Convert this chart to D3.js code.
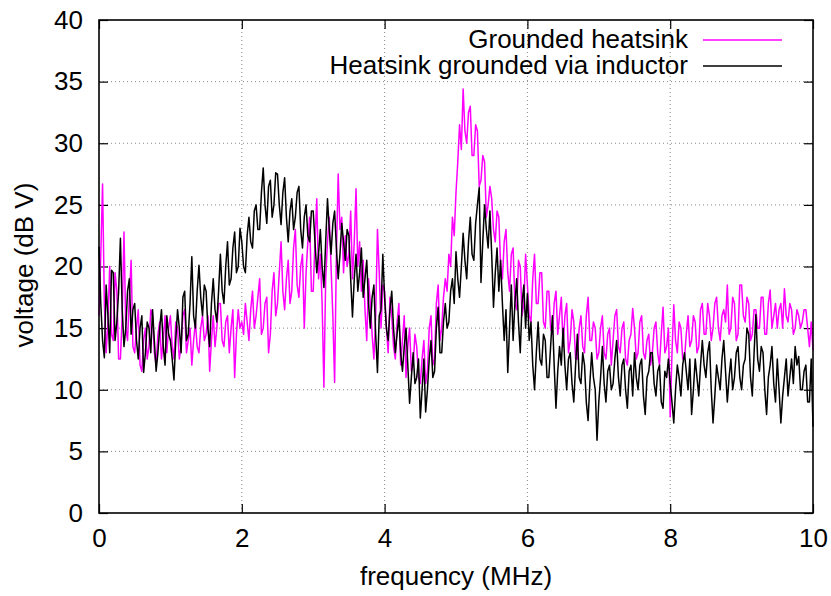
<!DOCTYPE html>
<html><head><meta charset="utf-8">
<script src="https://cdn.jsdelivr.net/npm/d3@7"></script>
<style>body{margin:0;background:#fff;} text{font-family:"Liberation Sans",Arial,sans-serif;}</style>
</head><body><svg id="c" width="831" height="596"></svg>
<script>
const xTicks = [0, 2, 4, 6, 8, 10];
const yTicks = [0, 5, 10, 15, 20, 25, 30, 35, 40];
const seriesNames = ["Grounded heatsink", "Heatsink grounded via inductor"];
const freqStep = 0.025;
const grounded = [
  16, 21, 26.7, 17, 13, 15.5, 20, 14.5, 14, 19.5, 18, 12.5, 12.5, 16, 22.8, 15, 14, 17.5, 20.5, 13.5,
  13, 15, 16.5, 12, 11.5, 14, 15, 12.5, 13.5, 16.5, 16, 13, 12, 14.5, 15.5, 12.5, 14, 16, 13, 15,
  16, 13.5, 12.5, 15.5, 15, 12.5, 13.5, 16, 16.5, 13, 14, 15, 12, 14, 15.5, 13.5, 13, 15, 16, 14,
  14.5, 16, 11.5, 14, 16, 13.5, 15, 17, 17, 14, 13.5, 15.5, 16, 13, 15, 16.5, 11, 14.5, 16.5, 15,
  15.5, 14.5, 17, 15.5, 14, 16.5, 18, 15, 16, 17.5, 19, 14.5, 15, 17, 17.5, 13, 14.5, 18, 19.5, 16,
  17, 19.5, 22, 18, 16.5, 19, 20.5, 17, 18, 21.5, 23, 18.5, 17.5, 20, 21, 15, 19.5, 22, 24, 18,
  18, 22, 25.5, 19, 21, 17, 10.2, 19, 22, 24, 20, 16, 10.6, 21, 27.5, 23, 24, 19.5, 22.5, 20,
  21, 24.5, 19, 22, 26.3, 20, 22, 18, 20.5, 16.5, 14, 19, 17, 14.5, 12.5, 16, 23, 19.5, 15, 18.5,
  18, 15, 13, 17.5, 16, 13.5, 12.5, 15.5, 17, 12, 14, 16, 11, 13.5, 15, 11.5, 12, 14.5, 13.5, 11,
  10.5, 12.5, 14, 10.5, 11.5, 15, 16, 12, 12.5, 17, 18.5, 14, 15, 17.5, 19, 18, 21, 20, 24, 22.5,
  26, 28.5, 31.5, 29.5, 34.4, 31, 30, 32.5, 33, 29, 29, 31.5, 31, 26.5, 27, 29, 28.5, 24, 25, 26.5,
  25.5, 23, 22, 24.5, 24, 20, 19, 22, 23, 19.5, 18, 21, 21.5, 17, 16.5, 20.5, 20, 16, 17, 21,
  18.5, 16, 15.5, 19, 21, 17, 17, 19.5, 19.5, 15.5, 15, 18, 18, 15, 14.5, 17, 18, 14.5, 16, 17.5,
  13.5, 16, 17, 13, 14, 16.5, 15.5, 12.5, 12.5, 15, 16, 13.5, 13, 16, 17.5, 14, 14, 15.5, 15, 12.5,
  13, 15, 16, 13, 12.5, 14.5, 15, 12, 14, 16, 16.5, 13.5, 13, 15, 15.5, 12.5, 12, 14, 14.5, 16.6,
  15, 12.5, 13, 15.5, 16, 13, 12.5, 14, 14.5, 12, 13, 15, 15.5, 13, 12, 14.5, 16.7, 13, 13.5, 15,
  7.8, 13, 16.9, 14, 13, 15.5, 15, 12.5, 12.5, 14.5, 16, 13.5, 14, 16, 15.5, 13, 13.5, 16.5, 17, 14.5,
  14.5, 17, 16, 14, 15, 17, 17.5, 15, 14, 16, 16.5, 15.5, 18.5, 14.5, 15, 17.5, 17, 14, 14.5, 18.5,
  18.5, 16, 15.5, 17.5, 17, 14, 14.5, 16.5, 16.5, 15, 15, 17.5, 17.5, 14.5, 14.5, 17, 18.1, 15, 16, 17,
  15, 16.5, 17, 15, 18.2, 16, 15.5, 17, 16.5, 14.5, 15, 16.5, 16, 15, 15.5, 16.5, 16.5, 15, 13.5, 15.5,
  13.2
];
const inductor = [
  21.6, 17, 14, 12.6, 18.5, 16, 13, 19.7, 19.5, 14, 15.5, 18, 22.3, 16.5, 13.5, 15, 18, 19, 14.5, 16.5,
  17, 14, 12.5, 15, 16, 11.4, 13, 15.5, 15, 13, 16.5, 14, 11.5, 13, 15, 16.5, 13.5, 12, 16, 14.5,
  14, 12.5, 10.8, 14, 16.5, 15, 13, 17.5, 18, 14, 14.5, 17, 20.8, 16, 15, 18, 20.1, 17.5, 16, 18.5,
  18, 15, 13.5, 17, 19, 16.5, 15.5, 18, 21, 18, 17, 20, 22, 18.5, 19, 21.5, 22.8, 19.5, 20, 23.1,
  22, 20, 19.5, 22.5, 24, 22, 21.5, 24.5, 25, 23, 23, 26, 28, 25, 23.5, 26.5, 27, 24, 25, 27.6,
  27.5, 25, 23.4, 26, 27.2, 24, 22, 24.5, 25.5, 23, 24, 26, 26.5, 23, 21.5, 24, 25, 22.5, 22, 24.5,
  24.5, 22, 19.5, 21, 23, 20, 18.3, 22, 25.5, 23, 21, 23.5, 24.5, 21.5, 19, 21, 23.5, 22, 20.5, 23,
  22.5, 19, 15.9, 19, 21, 18, 19.5, 21.5, 17.5, 19, 20.5, 17, 15, 17.5, 18.5, 14.5, 11.4, 16, 16.5, 21,
  17.5, 15, 14, 16.5, 18, 15, 13, 14.5, 16, 13, 11.5, 13.5, 15, 12, 8.9, 11, 13, 10.5, 11, 12.5,
  7.7, 10, 12.5, 8.2, 10, 12.5, 14, 11, 11.5, 15, 16.7, 13, 13, 15.5, 17, 15, 15.5, 18, 19, 17,
  21.2, 19, 17.5, 20, 22.7, 20.5, 19, 22, 24, 21, 20.5, 23.5, 25, 26.4, 18.7, 22, 25, 23, 21.5, 24.5,
  21, 16.7, 19.5, 21.5, 18, 20.5, 17, 14, 16.5, 11.4, 15, 18.5, 14, 17, 19, 15.5, 13, 17, 18.5, 15,
  17.8, 14, 15.5, 12, 10, 13, 15.5, 12.5, 12, 14.5, 14, 11, 11, 13.5, 16, 12, 8.5, 11.5, 13.5, 12,
  15, 12, 10, 12.5, 13, 10.5, 9, 12, 14.5, 11, 10.5, 13, 12, 9, 7.5, 10.5, 13, 11, 10, 5.9,
  9, 11, 13.5, 10.5, 9, 11.5, 12, 10, 10.5, 12.5, 14, 11, 9.5, 12, 12.5, 10, 8.5, 11.5, 12, 9.5,
  13, 11, 10, 12, 12.5, 9.5, 8, 11, 11.5, 13, 13, 10.5, 9.5, 11.5, 12, 9, 8.5, 11.5, 11, 12.5,
  10.5, 9, 7.3, 10, 12, 11, 9.5, 12, 13, 11.5, 10, 12.5, 8, 10, 12.5, 11, 9.5, 12, 14, 12,
  11, 13, 13.9, 10, 7.3, 9.5, 12, 11, 10, 12.5, 14, 11.5, 9, 11, 12.5, 10, 11, 13, 13.5, 11,
  10, 12, 12.5, 15, 14.5, 11, 9.5, 13, 16.1, 12.5, 11.5, 13.5, 13, 10, 8, 11, 12, 13.5, 10.5, 9,
  12.5, 10, 7.3, 9.5, 11, 12.5, 9.5, 11, 12.5, 10.5, 13.5, 12, 12.7, 10, 10, 11.5, 12, 9, 9, 12.5,
  7
];

const svg = d3.select("#c");
const L = 99, R = 813, T = 20, B = 513;
const x = d3.scaleLinear().domain([0, 10]).range([L, R]);
const y = d3.scaleLinear().domain([0, 40]).range([B, T]);

// grid
svg.append("g").selectAll("line").data(xTicks.slice(1, -1)).join("line")
  .attr("x1", d => x(d)).attr("x2", d => x(d)).attr("y1", T).attr("y2", B)
  .attr("stroke", "#888").attr("stroke-width", 1).attr("stroke-dasharray", "1,3");
svg.append("g").selectAll("line").data(yTicks.slice(1, -1)).join("line")
  .attr("y1", d => y(d)).attr("y2", d => y(d)).attr("x1", L).attr("x2", R)
  .attr("stroke", "#888").attr("stroke-width", 1).attr("stroke-dasharray", "1,3");

// axes
const fs = "26px";
const ax = svg.append("g").attr("transform", `translate(0,${B})`)
  .call(d3.axisBottom(x).tickValues(xTicks).tickSize(-9).tickPadding(16).tickFormat(d3.format("d")));
const axT = svg.append("g").attr("transform", `translate(0,${T})`)
  .call(d3.axisTop(x).tickValues(xTicks).tickSize(-9).tickFormat(""));
const ay = svg.append("g").attr("transform", `translate(${L},0)`)
  .call(d3.axisLeft(y).tickValues(yTicks).tickSize(-9).tickPadding(16).tickFormat(d3.format("d")));
const ayR = svg.append("g").attr("transform", `translate(${R},0)`)
  .call(d3.axisRight(y).tickValues(yTicks).tickSize(-9).tickFormat(""));
[ax, axT, ay, ayR].forEach(g => {
  g.select(".domain").remove();
  g.selectAll("line").attr("stroke", "#000").attr("stroke-width", 1.2);
  g.selectAll("text").attr("font-size", fs).attr("fill", "#000").attr("font-family", "Liberation Sans, Arial, sans-serif");
});

// lines
const line = d3.line().x((d, i) => x(i * freqStep)).y(d => y(d));
svg.append("path").datum(grounded).attr("d", line)
  .attr("fill", "none").attr("stroke", "#ff00ff").attr("stroke-width", 1.5).attr("stroke-linejoin", "round");
svg.append("path").datum(inductor).attr("d", line)
  .attr("fill", "none").attr("stroke", "#000").attr("stroke-width", 1.5).attr("stroke-linejoin", "round");

svg.append("rect").attr("x", L).attr("y", T).attr("width", R - L).attr("height", B - T)
  .attr("fill", "none").attr("stroke", "#000").attr("stroke-width", 1.6);

// axis titles
svg.append("text").attr("x", (L + R) / 2).attr("y", 585).attr("text-anchor", "middle")
  .attr("font-size", fs).text("frequency (MHz)");
svg.append("text").attr("transform", `translate(33,265) rotate(-90)`)
  .attr("text-anchor", "middle").attr("font-size", fs).text("voltage (dB V)");

// legend
const lg = svg.append("g");
const colors = ["#ff00ff", "#000"];
seriesNames.forEach((n, i) => {
  const yy = 40 + i * 26;
  lg.append("text").attr("x", 688).attr("y", yy + 8).attr("text-anchor", "end")
    .attr("font-size", fs).text(n);
  lg.append("line").attr("x1", 703).attr("x2", 782).attr("y1", yy).attr("y2", yy)
    .attr("stroke", colors[i]).attr("stroke-width", 1.5);
});
</script></body></html>
